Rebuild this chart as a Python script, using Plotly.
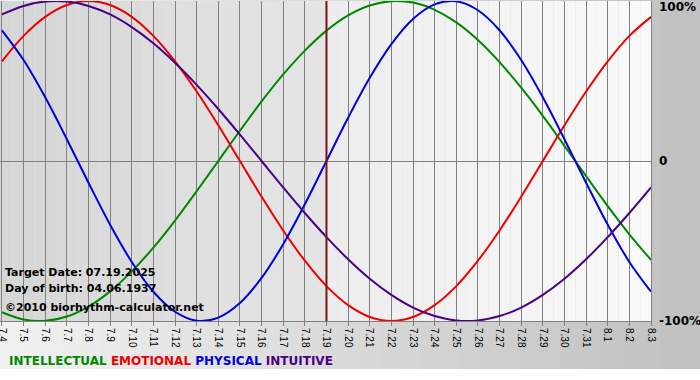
import plotly.graph_objects as go

dates = ["7.4", "7.5", "7.6", "7.7", "7.8", "7.9", "7.10", "7.11", "7.12", "7.13",
         "7.14", "7.15", "7.16", "7.17", "7.18", "7.19", "7.20", "7.21", "7.22", "7.23",
         "7.24", "7.25", "7.26", "7.27", "7.28", "7.29", "7.30", "7.31", "8.1", "8.2", "8.3"]

intellectual = [-94.5, -99.0, -99.9, -97.2, -91.0, -81.5, -69.0, -54.1, -37.2, -18.9,
                0.0, 18.9, 37.2, 54.1, 69.0, 81.5, 91.0, 97.2, 99.9, 99.0,
                94.5, 86.6, 75.6, 61.8, 45.8, 28.2, 9.5, -9.5, -28.2, -45.8, -61.8]
emotional = [62.3, 78.2, 90.1, 97.5, 100.0, 97.5, 90.1, 78.2, 62.3, 43.4,
             22.3, 0.0, -22.3, -43.4, -62.3, -78.2, -90.1, -97.5, -100.0, -97.5,
             -90.1, -78.2, -62.3, -43.4, -22.3, 0.0, 22.3, 43.4, 62.3, 78.2, 90.1]
physical = [81.7, 63.1, 39.8, 13.6, -13.6, -39.8, -63.1, -81.7, -94.2, -99.8,
            -97.9, -88.8, -73.1, -52.0, -27.0, 0.0, 27.0, 52.0, 73.1, 88.8,
            97.9, 99.8, 94.2, 81.7, 63.1, 39.8, 13.6, -13.6, -39.8, -63.1, -81.7]
intuitive = [91.6, 96.9, 99.7, 99.7, 96.9, 91.6, 83.7, 73.6, 61.4, 47.6,
             32.5, 16.5, 0.0, -16.5, -32.5, -47.6, -61.4, -73.6, -83.7, -91.6,
             -96.9, -99.7, -99.7, -96.9, -91.6, -83.7, -73.6, -61.4, -47.6, -32.5, -16.5]

series_names = ["INTELLECTUAL", "EMOTIONAL", "PHYSICAL", "INTUITIVE"]
series_colors = ["#008800", "#ee0000", "#0000dd", "#4b0088"]
target_date = "7.19"
info_lines = ["Target Date: 07.19.2025", "Day of birth: 04.06.1937"]
credit = "\u00a92010 biorhythm-calculator.net"
right_labels = ["100%", "0", "-100%"]
right_values = [100, 0, -100]

# plot geometry (pixels)
W, H = 700, 380
L, R, T, B = 0, 49, 1, 59
PW, PH = W - L - R, H - T - B
X_PAD = 0.09  # small left padding so the first tick sits just inside


def px2paper_x(px):
    return (px - L) / PW


def px2paper_y(py):
    return (H - B - py) / PH


def gray(v):
    v = int(round(v))
    return f"rgb({v},{v},{v})"


xs = list(range(len(dates)))
tidx = dates.index(target_date)
n = len(dates) - 1

fig = go.Figure()
for name, vals, col in zip(series_names, [intellectual, emotional, physical, intuitive], series_colors):
    fig.add_trace(go.Scatter(x=xs, y=vals, mode="lines", name=name,
                             line=dict(color=col, width=2, shape="spline", smoothing=1.0),
                             showlegend=False, hoverinfo="skip"))

shapes = []
# page background gradient (horizontal), white below
nstr = 35
for i in range(nstr):
    x0 = i * W / nstr
    x1 = (i + 1) * W / nstr
    g = 242 - (242 - 192) * (i + 0.5) / nstr
    shapes.append(dict(type="rect", xref="paper", yref="paper",
                       x0=px2paper_x(x0), x1=px2paper_x(x1 + 0.5),
                       y0=px2paper_y(369), y1=px2paper_y(-2),
                       fillcolor=gray(g), line=dict(width=0), layer="below"))
# plot area background gradient, darker before target date
steps = 2
for i in range(-1, n * steps):
    a = max(i / steps, -X_PAD)
    b = (i + 1) / steps
    if a < tidx:
        g = 214 + (230 - 214) * (max(a, 0) / tidx)
    else:
        g = 237 + (250 - 237) * ((a - tidx) / (n - tidx))
    shapes.append(dict(type="rect", xref="x", yref="y", x0=a, x1=b, y0=-100, y1=100,
                       fillcolor=gray(g), line=dict(width=0), layer="below"))
# target date line
shapes.append(dict(type="line", xref="x", yref="y", x0=tidx, x1=tidx, y0=-100, y1=100,
                   line=dict(color="#7a1515", width=2), layer="above"))

annotations = []
for i, txt in enumerate(info_lines):
    annotations.append(dict(xref="paper", yref="paper", x=px2paper_x(3), y=px2paper_y(272 + 16 * i),
                            xanchor="left", yanchor="middle", showarrow=False, text=f"<b>{txt}</b>",
                            font=dict(family="DejaVu Sans", size=11, color="#000000")))
annotations.append(dict(xref="paper", yref="paper", x=px2paper_x(3), y=px2paper_y(307),
                        xanchor="left", yanchor="middle", showarrow=False, text=f"<b>{credit}</b>",
                        font=dict(family="DejaVu Sans", size=11, color="#000000")))
for lab, v in zip(right_labels, right_values):
    shift = -6 if v == 100 else 0
    annotations.append(dict(xref="paper", yref="y", x=1, y=v, xshift=6, yshift=shift,
                            xanchor="left", yanchor="middle", showarrow=False, text=f"<b>{lab}</b>",
                            font=dict(family="DejaVu Sans", size=12, color="#000000")))
legend_html = " ".join(f"<span style='color:{c}'>{nm}</span>" for nm, c in zip(series_names, series_colors))
annotations.append(dict(xref="paper", yref="paper", x=px2paper_x(7), y=px2paper_y(361),
                        xanchor="left", yanchor="middle", showarrow=False, text=f"<b>{legend_html}</b>",
                        font=dict(family="DejaVu Sans", size=12)))

fig.update_layout(
    width=W, height=H,
    margin=dict(l=L, r=R, t=T, b=B, pad=0, autoexpand=False),
    paper_bgcolor="#ffffff",
    plot_bgcolor="rgba(0,0,0,0)",
    shapes=shapes,
    annotations=annotations,
    showlegend=False,
    xaxis=dict(range=[-X_PAD, n], tickmode="array", tickvals=xs, ticktext=dates,
               tickangle=90, ticks="outside", ticklen=4, tickcolor="#808080",
               ticklabeloverflow="allow",
               showgrid=True, gridcolor="#808080", gridwidth=1,
               showline=True, linecolor="#808080", linewidth=1,
               zeroline=False, fixedrange=True, automargin=False,
               tickfont=dict(family="Liberation Sans", size=10, color="#000000")),
    yaxis=dict(range=[-100, 100], showgrid=False, showticklabels=False, ticks="",
               zeroline=True, zerolinecolor="#808080", zerolinewidth=1,
               side="right", showline=True, linecolor="#808080", linewidth=1,
               fixedrange=True, automargin=False),
)

fig.write_html("out.html", config={"displayModeBar": False, "staticPlot": True},
               post_script="document.body.style.margin='0px';")
